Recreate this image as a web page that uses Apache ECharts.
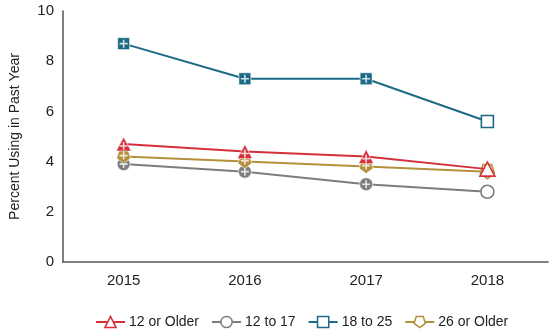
<!DOCTYPE html>
<html><head><meta charset="utf-8">
<script src="https://cdn.jsdelivr.net/npm/echarts@6/dist/echarts.min.js"></script>
<style>html,body{margin:0;padding:0;background:#fff}#c{width:555px;height:334px}</style>
</head><body><div id="c"></div>
<script>
const categories = ['2015','2016','2017','2018'];
const s12OrOlder = [4.7, 4.4, 4.2, 3.7];
const s12to17 = [3.9, 3.6, 3.1, 2.8];
const s18to25 = [8.7, 7.3, 7.3, 5.6];
const s26OrOlder = [4.2, 4.0, 3.8, 3.6];
const significant = [true, true, true, false];
const yTicks = [0, 2, 4, 6, 8, 10];

const FONT = '"Liberation Sans", Arial, sans-serif';
const pent = 'path://M1.9,0 L8.1,0 L10,5.9 L5,9.5 L0,5.9 Z';
const plus = 'path://M4,0h2v4h4v2h-4v4h-2v-4h-4v-2h4z';

const defs = [
  {name:'12 or Older', data:s12OrOlder, color:'#d3303a', symbol:'triangle', size:[15,14], plusOff:[0,2], z:5},
  {name:'12 to 17', data:s12to17, color:'#7d7d7f', symbol:'circle', size:13, plusOff:[0,0], z:2},
  {name:'18 to 25', data:s18to25, color:'#1d6a86', symbol:'rect', size:12, plusOff:[0,0], z:3},
  {name:'26 or Older', data:s26OrOlder, color:'#b48f3c', symbol:pent, size:[14,14], plusOff:[0,-1], z:4}
];

const series = [];
defs.forEach(d => {
  series.push({
    name:d.name, type:'line', data:d.data.map((v,i)=> significant[i]
      ? {value:v, itemStyle:{color:d.color, borderColor:'#fff', borderWidth:0.6}}
      : {value:v, itemStyle:{color:'#fff', borderColor:d.color, borderWidth:1.6}}),
    symbol:d.symbol, symbolSize:d.size, showAllSymbol:true, z:d.z,
    lineStyle:{color:d.color, width:2}, itemStyle:{color:d.color},
    emphasis:{disabled:true}, animation:false
  });
  series.push({
    name:d.name+' sig', type:'scatter', z:d.z,
    data:d.data.map((v,i)=> significant[i] ? v : null),
    symbol:plus, symbolSize:8, symbolOffset:d.plusOff, itemStyle:{color:'#fff'}, silent:true, animation:false
  });
});

const chart = echarts.init(document.getElementById('c'), null, {renderer:'canvas'});
chart.setOption({
  animation:false,
  grid:{left:60, right:7, top:11, bottom:72, containLabel:false},
  xAxis:{type:'category', data:categories, boundaryGap:true,
    axisLine:{lineStyle:{color:'#555', width:1.5}}, axisTick:{show:false},
    axisLabel:{color:'#222', fontSize:15, fontFamily:FONT, margin:11}},
  yAxis:{type:'value', min:yTicks[0], max:yTicks[yTicks.length-1], interval:2,
    name:'Percent Using in Past Year', nameLocation:'middle', nameGap:41,
    nameTextStyle:{color:'#222', fontSize:14, fontFamily:FONT},
    axisLine:{show:true, lineStyle:{color:'#555', width:1.5}}, axisTick:{show:false},
    splitLine:{show:false},
    axisLabel:{color:'#222', fontSize:15, fontFamily:FONT, margin:9}},
  legend:{top:310, left:90, itemWidth:29, itemHeight:14, itemGap:12,
    textStyle:{color:'#222', fontSize:14, fontFamily:FONT, padding:[0,0,0,-1]},
    data:defs.map(d=>({name:d.name, itemStyle:{color:'#fff', borderColor:d.color, borderWidth:1.5}}))},
  series:series
});
</script></body></html>
